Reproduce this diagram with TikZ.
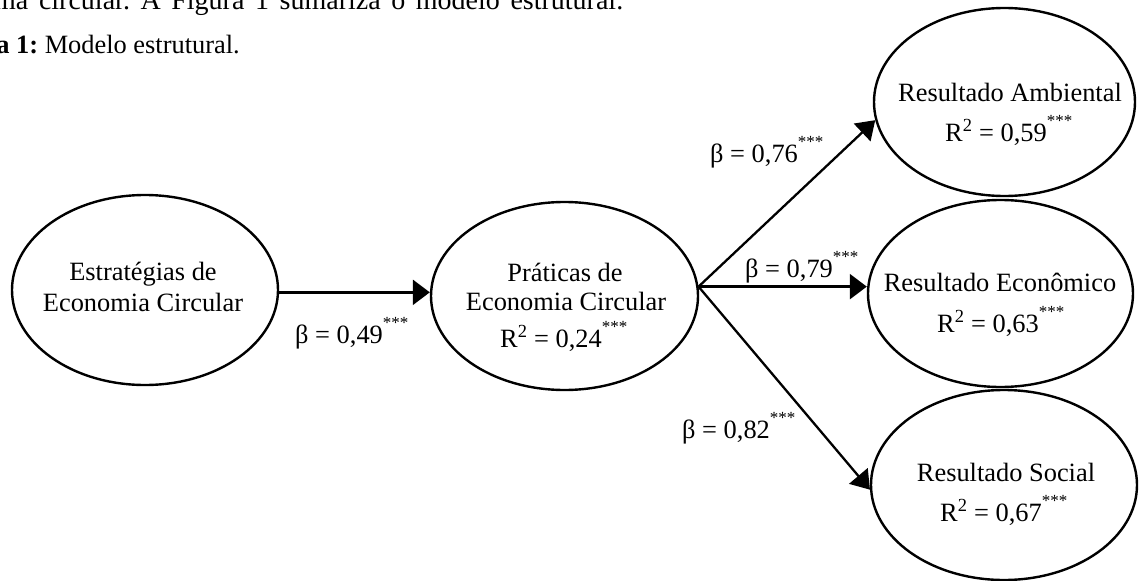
\documentclass[tikz,border=0pt]{standalone}
\usepackage{fontspec}
\setmainfont{Liberation Serif}
\usetikzlibrary{shapes.geometric,arrows.meta}
\newcommand\sigstars{\raisebox{15pt}{\fontsize{17}{17}\selectfont ***}}
\frenchspacing
\begin{document}
\begin{tikzpicture}[x=1pt,y=-1pt,
  oval/.style={draw, ellipse, line width=2.4pt, inner sep=0pt},
  txt/.style={inner sep=0pt, font=\fontsize{26.4}{30}\selectfont},
  arr/.style={line width=2.6pt, -{Triangle[length=17pt,width=25pt]}},
  darr/.style={line width=2.3pt, -{Triangle[length=18pt,width=24pt]}},
]
\useasboundingbox (0,0) rectangle (1141,581);

% running text above the figure
\node[inner sep=0pt, font=\fontsize{28}{30}\selectfont, anchor=base west] (para) at (-6,9)
  {\makebox[629pt][s]{ma circular. A Figura 1 sumariza o modelo estrutural.}};
\node[txt, anchor=base east] (cap) at (240,53) {\textbf{Figura 1:} Modelo estrutural.};

% ellipses
\node[oval, minimum width=266pt, minimum height=190pt] (e1) at (145,290) {};
\node[oval, minimum width=267pt, minimum height=188pt] (e2) at (564.5,296) {};
\node[oval, minimum width=261pt, minimum height=188pt] (e3) at (1004.5,102) {};
\node[oval, minimum width=265pt, minimum height=187pt] (e4) at (1000.5,293.5) {};
\node[oval, minimum width=266pt, minimum height=190pt] (e5) at (1004,485) {};

% texts inside ellipses
\node[txt, anchor=base] (e1a) at (143,280) {Estratégias de};
\node[txt, anchor=base] (e1b) at (143,311) {Economia Circular};

\node[txt, anchor=base] (e2a) at (565,281) {Práticas de};
\node[txt, anchor=base] (e2b) at (566,310) {Economia Circular};
\node[txt, anchor=base west] (e2c) at (500,347) {R\textsuperscript{2} = 0,24\sigstars};

\node[txt, anchor=base] (e3a) at (1010,101) {Resultado Ambiental};
\node[txt, anchor=base west] (e3b) at (945,141) {R\textsuperscript{2} = 0,59\sigstars};

\node[txt, anchor=base] (e4a) at (1000,291) {Resultado Econômico};
\node[txt, anchor=base west] (e4b) at (937,332) {R\textsuperscript{2} = 0,63\sigstars};

\node[txt, anchor=base] (e5a) at (1006,481) {Resultado Social};
\node[txt, anchor=base west] (e5b) at (940,521) {R\textsuperscript{2} = 0,67\sigstars};

% connectors
\draw[arr] (e1.-1.7) -- (e1.-1.7 -| e2.west);
\draw[darr] (e2.4.7) -- (e3.188.6);
\draw[arr] (e2.4.7) -- (e2.4.7 -| e4.west);
\draw[darr] (e2.4.7) -- (e5.182);

% path coefficients
\node[txt, anchor=base west] (b1) at (295,343) {β = 0,49\sigstars};
\node[txt, anchor=base west] (b2) at (710,162) {β = 0,76\sigstars};
\node[txt, anchor=base west] (b3) at (745,277) {β = 0,79\sigstars};
\node[txt, anchor=base west] (b4) at (682,438) {β = 0,82\sigstars};
\end{tikzpicture}
\end{document}
